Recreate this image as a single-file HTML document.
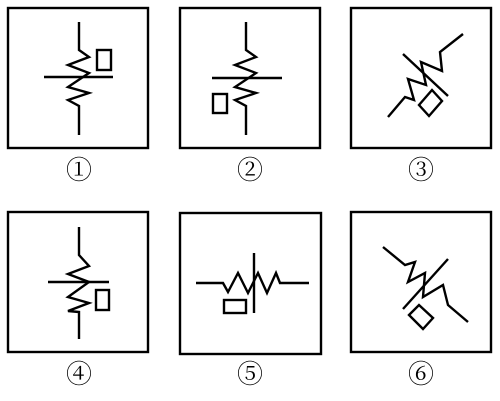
<!DOCTYPE html>
<html><head><meta charset="utf-8"><style>
html,body{margin:0;padding:0;background:#fff;}
svg{display:block}
text{font-family:"Liberation Serif","Noto Serif CJK SC",serif;font-size:26px;}
</style></head><body>
<svg width="500" height="401" viewBox="0 0 500 401" xmlns="http://www.w3.org/2000/svg" fill="none" stroke="#000" stroke-width="2.4" stroke-linejoin="miter">
<g>
<rect x="8" y="8" width="140" height="140"/>
<polyline points="79,22 79,50 89,57 68,65 89,73 68,87 89,93 68,100 79,106 79,135"/>
<line x1="44" y1="77" x2="113" y2="77"/>
<rect x="97" y="50" width="14" height="20"/>
</g>
<g>
<rect x="180" y="8" width="140" height="140"/>
<polyline points="246,22 246,50 256,57 235,65 256,73 235,87 256,93 235,100 246,106 246,135"/>
<line x1="212" y1="78" x2="282" y2="78"/>
<rect x="213" y="94" width="14" height="19"/>
</g>
<g>
<rect x="351" y="8" width="140" height="140"/>
<polyline points="388,117 405,97 414,100 408,79 426,85 421,62 442,71 440,52 463,34"/>
<line x1="403" y1="54" x2="448" y2="96"/>
<polygon points="419,105 432,90 442,101 429,116"/>
</g>
<g>
<rect x="8" y="212" width="140" height="140"/>
<polyline points="79,227 79,255 89,266 68,274 89,282 68,297 89,303 68,311 79,312 79,339"/>
<line x1="48" y1="282" x2="109" y2="282"/>
<rect x="96" y="290" width="13" height="20"/>
</g>
<g>
<rect x="180" y="213" width="141" height="141"/>
<polyline points="196,283 223,283 228,292 238,273 248,293 258,273 267,293 276,273 280,283 309,283"/>
<line x1="254" y1="253" x2="254" y2="313"/>
<rect x="224" y="300" width="22" height="13"/>
</g>
<g>
<rect x="351" y="212" width="140" height="140"/>
<polyline points="383,247 405,265 415,262 408,282 425,273 423,297 443,285 448,305 468,322"/>
<line x1="403" y1="309" x2="448" y2="259"/>
<polygon points="409,315 419,305 433,318 423,329"/>
</g>
<g stroke="none" fill="#000" text-anchor="middle">
<text x="79" y="179">①</text>
<text x="250" y="179">②</text>
<text x="421" y="179">③</text>
<text x="79" y="383">④</text>
<text x="250" y="383">⑤</text>
<text x="421" y="383">⑥</text>
</g>
</svg>
</body></html>
